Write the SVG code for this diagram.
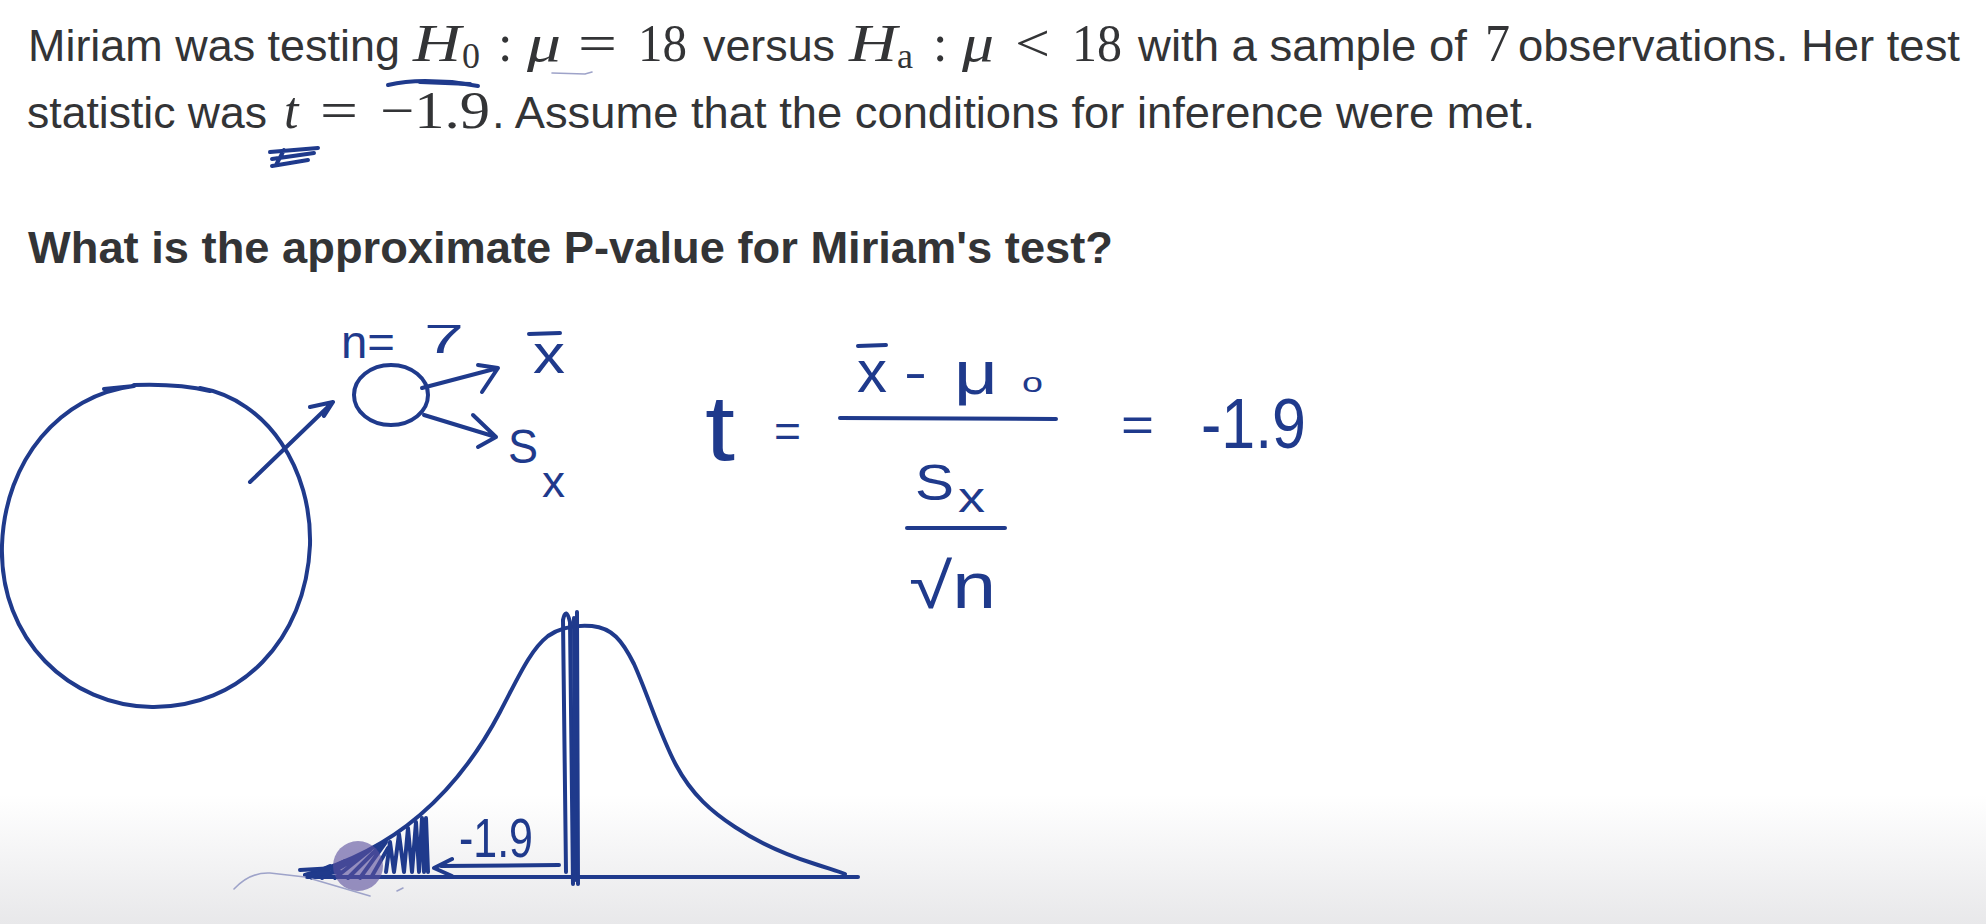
<svg xmlns="http://www.w3.org/2000/svg" width="1986" height="924" viewBox="0 0 1986 924">
<defs>
<linearGradient id="bg" x1="0" y1="0" x2="0" y2="1">
<stop offset="0" stop-color="#ffffff"/>
<stop offset="0.86" stop-color="#ffffff"/>
<stop offset="1" stop-color="#e8e8ea"/>
</linearGradient>
<style>
.tx{font-family:"Liberation Sans",Arial,sans-serif;font-size:45px;fill:#333436}
.bold{font-weight:bold}
.mi{font-family:"Liberation Serif","Times New Roman",serif;font-style:italic;font-size:52px;fill:#333436}
.mr{font-family:"Liberation Serif","Times New Roman",serif;font-size:52px;fill:#333436}
.sub{font-size:36px}
.hw{font-family:"Liberation Sans",Arial,sans-serif;fill:#1f3a8c}
.ink{fill:none;stroke:#1f3a8c;stroke-width:4;stroke-linecap:round;stroke-linejoin:round}
.faint{fill:none;stroke:#9ea3c9;stroke-width:1.6;stroke-linecap:round}
</style>
</defs>
<rect x="0" y="0" width="1986" height="924" fill="url(#bg)"/>

<g id="question">
<text class="tx" x="28" y="61" textLength="372" lengthAdjust="spacingAndGlyphs">Miriam was testing</text>
<text class="mi" x="413" y="61" textLength="48" lengthAdjust="spacingAndGlyphs">H</text>
<text class="mr sub" x="462" y="68">0</text>
<text class="mr" x="498" y="61">:</text>
<text class="mi" x="527" y="61" textLength="34" lengthAdjust="spacingAndGlyphs">μ</text>
<text class="mr" x="578" y="61" textLength="39" lengthAdjust="spacingAndGlyphs">=</text>
<text class="mr" x="638" y="61" textLength="49" lengthAdjust="spacingAndGlyphs">18</text>
<text class="tx" x="703" y="61" textLength="132" lengthAdjust="spacingAndGlyphs">versus</text>
<text class="mi" x="849" y="61" textLength="48" lengthAdjust="spacingAndGlyphs">H</text>
<text class="mr sub" x="897" y="68">a</text>
<text class="mr" x="933" y="61">:</text>
<text class="mi" x="962" y="61" textLength="32" lengthAdjust="spacingAndGlyphs">μ</text>
<text class="mr" x="1015" y="61" textLength="35" lengthAdjust="spacingAndGlyphs">&lt;</text>
<text class="mr" x="1072" y="61" textLength="50" lengthAdjust="spacingAndGlyphs">18</text>
<text class="tx" x="1138" y="61" textLength="329" lengthAdjust="spacingAndGlyphs">with a sample of</text>
<text class="mr" x="1485" y="61" textLength="25" lengthAdjust="spacingAndGlyphs">7</text>
<text class="tx" x="1518" y="61" textLength="442" lengthAdjust="spacingAndGlyphs">observations. Her test</text>

<text class="tx" x="27" y="128" textLength="240" lengthAdjust="spacingAndGlyphs">statistic was</text>
<text class="mi" x="284" y="128">t</text>
<text class="mr" x="320" y="128" textLength="38" lengthAdjust="spacingAndGlyphs">=</text>
<text class="mr" x="380" y="128" textLength="110" lengthAdjust="spacingAndGlyphs">−1.9</text>
<text class="tx" x="492" y="128" textLength="1043" lengthAdjust="spacingAndGlyphs">. Assume that the conditions for inference were met.</text>

<text class="tx bold" x="28" y="263" textLength="1085" lengthAdjust="spacingAndGlyphs">What is the approximate P-value for Miriam's test?</text>
</g>

<g id="annotations">
<path class="ink" d="M388,85 Q405,81 425,81 L452,82 L478,86" stroke-width="3"/>
<path class="ink" d="M420,82 L470,84" stroke-width="5"/>
<path class="faint" d="M552,73 L585,74 L592,72" stroke="#6f78b8"/>
<path class="ink" d="M270,152 L318,148 M272,159 L314,153 M272,166 L308,160 M284,150 L276,165" stroke-width="3.5"/>
</g>

<g id="population">
<path class="ink" d="M104,389 L134,386 C60,395 5,460 2,545 C-1,640 70,706 152,707 C240,708 306,640 310,545 C312,470 268,400 200,388" stroke-width="3.5"/>
<path class="ink" d="M134,385 C160,384 185,385 210,391" stroke-width="6"/>
</g>

<g id="sample">
<ellipse class="ink" cx="391" cy="395" rx="37" ry="30" stroke-width="4"/>
<text class="hw" x="341" y="358" font-size="46" textLength="54" lengthAdjust="spacingAndGlyphs">n=</text>
<text class="hw" x="424" y="353" font-size="40" textLength="40" lengthAdjust="spacingAndGlyphs">7</text>
<text class="hw" x="533" y="373" font-size="56" textLength="32" lengthAdjust="spacingAndGlyphs">x</text>
<path class="ink" d="M529,334 L560,333" stroke-width="3.5"/>
<text class="hw" x="508" y="463" font-size="48" textLength="30" lengthAdjust="spacingAndGlyphs">S</text>
<text class="hw" x="542" y="497" font-size="44" textLength="23" lengthAdjust="spacingAndGlyphs">x</text>
</g>

<g id="connectors">
<path class="ink" d="M250,482 L333,402 M310,407 L333,402 L324,416"/>
<path class="ink" d="M422,388 L498,368 M478,365 L498,368 L482,392"/>
<path class="ink" d="M424,415 L496,437 M473,415 L496,437 L478,447"/>
</g>

<g id="formula">
<text class="hw" transform="translate(705,460) scale(1,1.45)" x="0" y="0" font-size="64" textLength="30" lengthAdjust="spacingAndGlyphs">t</text>
<text class="hw" x="774" y="447" font-size="46" textLength="27" lengthAdjust="spacingAndGlyphs">=</text>
<text class="hw" x="857" y="392" font-size="60" textLength="30" lengthAdjust="spacingAndGlyphs">x</text>
<path class="ink" d="M858,346 L886,345" stroke-width="3.5"/>
<text class="hw" x="904" y="389" font-size="50" textLength="23" lengthAdjust="spacingAndGlyphs">-</text>
<text class="hw" x="954" y="394" font-size="62" textLength="44" lengthAdjust="spacingAndGlyphs">μ</text>
<text class="hw" x="1022" y="392" font-size="28" textLength="21" lengthAdjust="spacingAndGlyphs">o</text>
<path class="ink" d="M840,418 L1056,419" stroke-width="4.5"/>
<text class="hw" x="1121" y="441" font-size="48" textLength="33" lengthAdjust="spacingAndGlyphs">=</text>
<text class="hw" x="1201" y="448" font-size="70" textLength="105" lengthAdjust="spacingAndGlyphs">-1.9</text>
<text class="hw" x="915" y="500" font-size="50" textLength="39" lengthAdjust="spacingAndGlyphs">S</text>
<text class="hw" x="958" y="512" font-size="42" textLength="27" lengthAdjust="spacingAndGlyphs">x</text>
<path class="ink" d="M907,528 L1005,528" stroke-width="4.5"/>
<text class="hw" x="909" y="608" font-size="64" textLength="87" lengthAdjust="spacingAndGlyphs">√n</text>
</g>

<g id="t-distribution">
<path class="ink" d="M307,877 L858,877" stroke-width="4.5"/>
<path class="ink" d="M305,875 C345,864 385,845 420,815 C455,785 480,750 500,712 C518,678 530,650 548,636 C562,626 578,625 592,626 C612,628 622,640 634,664 C648,695 660,735 676,765 C692,795 712,812 735,827 C762,845 790,856 815,864 C830,869 838,871 845,874" stroke-width="4"/>
<path class="ink" d="M577,612 L578,884" stroke-width="4"/>
<path class="ink" d="M573,884 L570,622 Q566,606 563,620 L566,872" stroke-width="2.5"/>
<path class="ink" d="M574,618 L575,880" stroke-width="2"/>
<path class="ink" d="M386,872 L390,842 L394,872 L399,834 L404,872 L408,828 L412,872 L416,822 L419,872 L422,818 L424,872 L426,818 L428,872" stroke-width="3.5"/>
<path class="ink" d="M310,875 L330,866 M312,878 L345,861 M322,878 L360,856 M335,878 L370,850 M348,878 L380,846 M360,878 L386,842 M372,876 L388,848" stroke-width="3"/>
<path class="ink" d="M300,870 L335,868 M305,875 L340,872" stroke-width="2.5"/>
<text class="hw" x="459" y="857" font-size="55" textLength="74" lengthAdjust="spacingAndGlyphs">-1.9</text>
<path class="ink" d="M441,866 L559,865 M452,859 L434,868 L452,876" stroke-width="3.5"/>
<circle cx="358" cy="866" r="25" fill="#5c519e" fill-opacity="0.62"/>
<path class="faint" d="M234,889 Q250,872 270,873 L305,877 M312,879 L370,896 M397,891 L403,888"/>
</g>
</svg>
